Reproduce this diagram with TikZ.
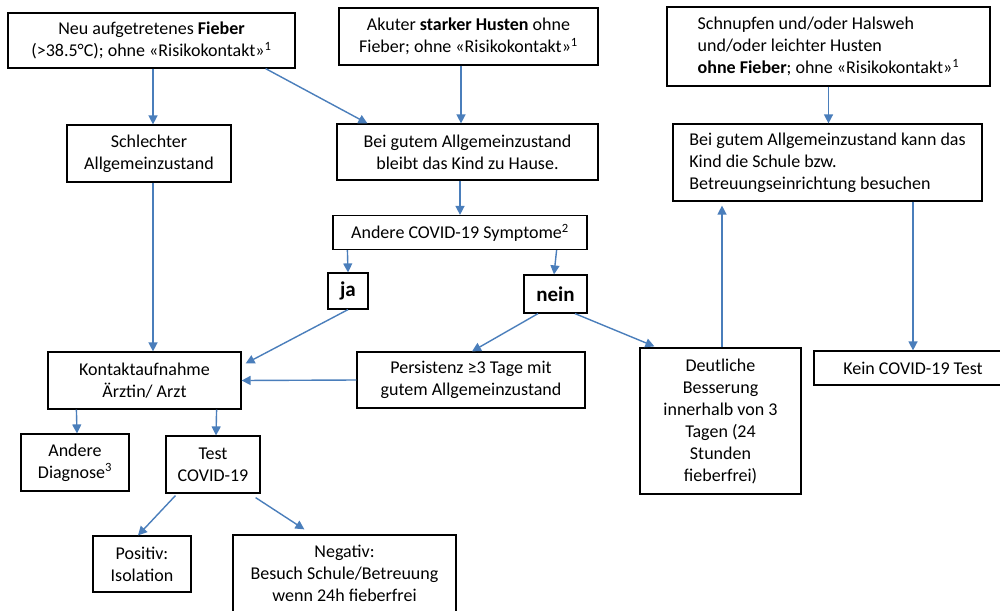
\documentclass[tikz,border=0pt]{standalone}
\usepackage{fontspec}
\setmainfont{Carlito}
\usetikzlibrary{arrows.meta, calc}

\definecolor{pfeilblau}{RGB}{74,126,187}

\tikzset{
    kasten/.style={draw, line width=1.2pt, inner sep=2pt, align=center,
        font=\fontsize{18}{22}\selectfont},
    antwort/.style={kasten, font=\fontsize{21}{24}\selectfont\bfseries},
    pfeil/.style={draw=pfeilblau, line width=1.4pt, -{Triangle[length=9pt, width=9pt]}}
}

\begin{document}
\begin{tikzpicture}[x=1pt, y=-1pt]
    \useasboundingbox[fill=white] (0,0) rectangle (1000,610);
    \clip (0,0) rectangle (1000,610);

    % Einstiegssymptome
    \node[kasten, minimum width=287, minimum height=55] (fieber) at (151.5,40.5)
        {Neu aufgetretenes \textbf{Fieber}\\(>38.5°C); ohne «Risikokontakt»\textsuperscript{1}};
    \node[kasten, minimum width=259, minimum height=57] (husten) at (468.5,36.5)
        {Akuter \textbf{starker Husten} ohne\\Fieber; ohne «Risikokontakt»\textsuperscript{1}};
    \node[kasten, align=left, minimum width=323, minimum height=79] (schnupfen) at (828.5,46.5)
        {Schnupfen und/oder Halsweh\\und/oder leichter Husten\\\textbf{ohne Fieber}; ohne «Risikokontakt»\textsuperscript{1}};

    % Zustand
    \node[kasten, minimum width=164, minimum height=57] (schlecht) at (149,153.5)
        {Schlechter\\Allgemeinzustand};
    \node[kasten, minimum width=261, minimum height=56] (zuhause) at (467.5,152)
        {Bei gutem Allgemeinzustand\\bleibt das Kind zu Hause.};
    \node[kasten, align=left, minimum width=309, minimum height=77] (besuch) at (827.5,162.5)
        {Bei gutem Allgemeinzustand kann das\\Kind die Schule bzw.\\Betreuungseinrichtung besuchen};

    \node[kasten, minimum width=254, minimum height=34] (symptome) at (460,232.5)
        {Andere COVID-19 Symptome\textsuperscript{2}};
    \node[antwort, minimum width=40, minimum height=36] (ja) at (348,291) {ja};
    \node[antwort, minimum width=63, minimum height=38] (nein) at (555.5,294) {nein};

    \node[kasten, minimum width=193, minimum height=57] (kontakt) at (144.5,380.5)
        {Kontaktaufnahme\\Ärztin/ Arzt};
    \node[kasten, minimum width=228, minimum height=56] (persistenz) at (471,380)
        {Persistenz ≥3 Tage mit\\gutem Allgemeinzustand};
    \node[kasten, minimum width=161, minimum height=146] (besserung) at (720.5,421)
        {Deutliche\\Besserung\\innerhalb von 3\\Tagen (24\\Stunden\\fieberfrei)};
    \node[kasten, minimum width=198, minimum height=34] (keintest) at (913,368)
        {Kein COVID-19 Test};

    \node[kasten, minimum width=108, minimum height=57] (diagnose) at (75,462.5)
        {Andere\\Diagnose\textsuperscript{3}};
    \node[kasten, minimum width=94, minimum height=57] (test) at (213,464.5)
        {Test\\COVID-19};
    \node[kasten, minimum width=98, minimum height=56] (positiv) at (142,564)
        {Positiv:\\Isolation};
    \node[kasten, minimum width=223, minimum height=77] (negativ) at (344.5,573.5)
        {Negativ:\\Besuch Schule/Betreuung\\wenn 24h fieberfrei};

    % Pfeile
    \draw[pfeil] ([xshift=1.5pt]fieber.south) -- ([xshift=4pt]schlecht.north);
    \draw[pfeil] ([xshift=-30pt]fieber.south east) -- ([xshift=31pt]zuhause.north west);
    \draw[pfeil] ([xshift=-7.5pt]husten.south) -- ([xshift=-6.5pt]zuhause.north);
    \draw[pfeil] ([xshift=-7.5pt]zuhause.south) -- (symptome.north);
    \draw[pfeil] ([xshift=15pt]symptome.south west) -- (ja.north);
    \draw[pfeil] ([xshift=-31pt]symptome.south east) -- ([xshift=-1.5pt]nein.north);
    \draw[pfeil] (ja.south) -- ([xshift=4pt, yshift=17pt]kontakt.east);
    \draw[pfeil] (persistenz.west) -- (kontakt.east);
    \draw[pfeil] ([xshift=-17.5pt]nein.south) -- ([xshift=1pt]persistenz.north);
    \draw[pfeil] ([xshift=19.5pt]nein.south) -- ([xshift=15pt, yshift=1pt]besserung.north west);
    \draw[pfeil] ([xshift=1.5pt]besserung.north) -- ([xshift=-105.5pt, yshift=-4pt]besuch.south);
    \draw[pfeil] ([xshift=85.5pt]besuch.south) -- (keintest.north);
    \draw[pfeil] (schnupfen.south) -- (schnupfen.south |- besuch.north);
    \draw[pfeil] ([xshift=4pt]schlecht.south) -- ([xshift=8.5pt]kontakt.north);
    \draw[pfeil] ([xshift=29pt]kontakt.south west) -- ([xshift=2pt]diagnose.north);
    \draw[pfeil] ([xshift=-25pt]kontakt.south east) -- ([xshift=3pt]test.north);
    \draw[pfeil] ([xshift=10pt, yshift=-2pt]test.south west) -- ([xshift=-4pt]positiv.north);
    \draw[pfeil] ([xshift=-5pt, yshift=-4pt]test.south east) -- ([xshift=72pt, yshift=5pt]negativ.north west);
\end{tikzpicture}
\end{document}
